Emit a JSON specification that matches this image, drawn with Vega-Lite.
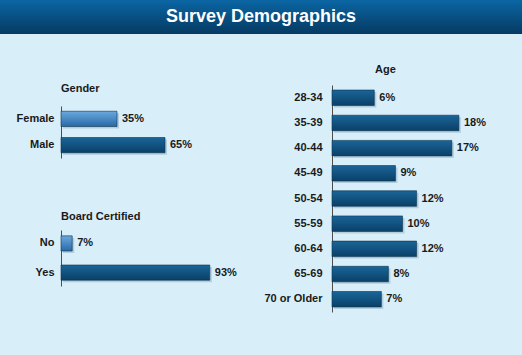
{
  "$schema": "https://vega.github.io/schema/vega-lite/v6.json",
  "padding": 0,
  "background": "#d8eef9",
  "spacing": 29,
  "config": {
    "font": "Liberation Sans, Arial, sans-serif",
    "view": {"stroke": null},
    "title": {"font": "Liberation Sans, Arial, sans-serif", "fontSize": 11, "fontWeight": "bold", "color": "#1a1a1a", "anchor": "start", "frame": "group", "offset": 10},
    "axisY": {"domainColor": "#4d4d4d", "domainWidth": 1, "ticks": false, "grid": false, "labelFont": "Liberation Sans, Arial, sans-serif", "labelFontSize": 11, "labelFontWeight": "bold", "labelColor": "#1a1a1a", "title": null}
  },
  "vconcat": [
    {
      "width": 522,
      "height": 34,
      "data": {"values": [{"title": "Survey Demographics"}]},
      "layer": [
        {"mark": {"type": "rect", "fill": {"gradient": "linear", "x1": 0, "y1": 0, "x2": 0, "y2": 1, "stops": [{"offset": 0, "color": "#0b66a3"}, {"offset": 1, "color": "#053a62"}]}}, "encoding": {}},
        {"mark": {"type": "text", "font": "Liberation Sans, Arial, sans-serif", "fontSize": 18, "fontWeight": "bold", "color": "#ffffff", "baseline": "middle", "align": "center"}, "encoding": {"text": {"field": "title"}}}
      ]
    },
    {
      "spacing": 10,
      "hconcat": [
        {"width": 6, "height": 1, "data": {"values": [{}]}, "mark": {"type": "rect", "fill": "transparent"}, "encoding": {}},
        {
          "spacing": 19,
          "vconcat": [
            {"width": 10, "height": 1, "data": {"values": [{}]}, "mark": {"type": "rect", "fill": "transparent"}, "encoding": {}},
            {
              "spacing": 53,
              "vconcat": [
                {
                  "width": 180,
                  "height": 52,
                  "title": {"text": "Gender", "offset": 12},
                  "data": {"values": [{"category": "Female", "share": 0.35, "group": "light"}, {"category": "Male", "share": 0.65, "group": "dark"}]},
                  "encoding": {
                    "y": {"field": "category", "type": "nominal", "sort": null, "scale": {"paddingInner": 0.42, "paddingOuter": 0.2}, "axis": {"minExtent": 45, "maxExtent": 45, "labelPadding": 7}},
                    "x": {"field": "share", "type": "quantitative", "scale": {"domain": [0, 1.125]}, "axis": null}
                  },
                  "layer": [
                    {"mark": {"type": "bar", "xOffset": 2, "yOffset": 2, "fill": "#6f8fa3", "opacity": 0.35}},
                    {"transform": [{"filter": "datum.group == 'light'"}], "mark": {"type": "bar", "stroke": "#0a3350", "strokeWidth": 0.6, "fill": {"gradient": "linear", "x1": 0, "y1": 0, "x2": 0, "y2": 1, "stops": [{"offset": 0, "color": "#6aa8de"}, {"offset": 1, "color": "#2a6aa6"}]}}},
                    {"transform": [{"filter": "datum.group == 'dark'"}], "mark": {"type": "bar", "stroke": "#0a3350", "strokeWidth": 0.6, "fill": {"gradient": "linear", "x1": 0, "y1": 0, "x2": 0, "y2": 1, "stops": [{"offset": 0, "color": "#1a6598"}, {"offset": 1, "color": "#0a4068"}]}}},
                    {"mark": {"type": "text", "align": "left", "baseline": "middle", "dx": 5, "fontSize": 11, "fontWeight": "bold", "color": "#1a1a1a"}, "encoding": {"text": {"field": "share", "type": "quantitative", "format": ".0%"}}}
                  ]
                },
                {
                  "width": 180,
                  "height": 56,
                  "title": {"text": "Board Certified", "offset": 8},
                  "data": {"values": [{"category": "No", "share": 0.07, "group": "light"}, {"category": "Yes", "share": 0.93, "group": "dark"}]},
                  "encoding": {
                    "y": {"field": "category", "type": "nominal", "sort": null, "scale": {"paddingInner": 0.48, "paddingOuter": 0.2}, "axis": {"minExtent": 45, "maxExtent": 45, "labelPadding": 7}},
                    "x": {"field": "share", "type": "quantitative", "scale": {"domain": [0, 1.125]}, "axis": null}
                  },
                  "layer": [
                    {"mark": {"type": "bar", "xOffset": 2, "yOffset": 2, "fill": "#6f8fa3", "opacity": 0.35}},
                    {"transform": [{"filter": "datum.group == 'light'"}], "mark": {"type": "bar", "stroke": "#0a3350", "strokeWidth": 0.6, "fill": {"gradient": "linear", "x1": 0, "y1": 0, "x2": 0, "y2": 1, "stops": [{"offset": 0, "color": "#6aa8de"}, {"offset": 1, "color": "#2a6aa6"}]}}},
                    {"transform": [{"filter": "datum.group == 'dark'"}], "mark": {"type": "bar", "stroke": "#0a3350", "strokeWidth": 0.6, "fill": {"gradient": "linear", "x1": 0, "y1": 0, "x2": 0, "y2": 1, "stops": [{"offset": 0, "color": "#1a6598"}, {"offset": 1, "color": "#0a4068"}]}}},
                    {"mark": {"type": "text", "align": "left", "baseline": "middle", "dx": 5, "fontSize": 11, "fontWeight": "bold", "color": "#1a1a1a"}, "encoding": {"text": {"field": "share", "type": "quantitative", "format": ".0%"}}}
                  ]
                }
              ]
            }
          ]
        },
        {
          "spacing": 0,
          "vconcat": [
            {"width": 10, "height": 1, "data": {"values": [{}]}, "mark": {"type": "rect", "fill": "transparent"}, "encoding": {}},
            {
              "width": 141,
              "height": 227,
              "title": {"text": "Age", "dx": 43, "offset": 10},
              "data": {"values": [
                {"category": "28-34", "share": 0.06},
                {"category": "35-39", "share": 0.18},
                {"category": "40-44", "share": 0.17},
                {"category": "45-49", "share": 0.09},
                {"category": "50-54", "share": 0.12},
                {"category": "55-59", "share": 0.10},
                {"category": "60-64", "share": 0.12},
                {"category": "65-69", "share": 0.08},
                {"category": "70 or Older", "share": 0.07}
              ]},
              "encoding": {
                "y": {"field": "category", "type": "nominal", "sort": null, "scale": {"paddingInner": 0.385, "paddingOuter": 0.2}, "axis": {"minExtent": 81, "maxExtent": 81, "labelPadding": 10}},
                "x": {"field": "share", "type": "quantitative", "scale": {"domain": [0, 0.2]}, "axis": {"orient": "bottom", "labels": false, "ticks": false, "domain": false, "grid": false, "title": null, "minExtent": 43, "maxExtent": 43}}
              },
              "layer": [
                {"mark": {"type": "bar", "xOffset": 2, "yOffset": 2, "fill": "#6f8fa3", "opacity": 0.35}},
                {"mark": {"type": "bar", "stroke": "#0a3350", "strokeWidth": 0.6, "fill": {"gradient": "linear", "x1": 0, "y1": 0, "x2": 0, "y2": 1, "stops": [{"offset": 0, "color": "#1a6598"}, {"offset": 1, "color": "#0a4068"}]}}},
                {"mark": {"type": "text", "align": "left", "baseline": "middle", "dx": 5, "fontSize": 11, "fontWeight": "bold", "color": "#1a1a1a"}, "encoding": {"text": {"field": "share", "type": "quantitative", "format": ".0%"}}}
              ]
            }
          ]
        }
      ]
    }
  ]
}
